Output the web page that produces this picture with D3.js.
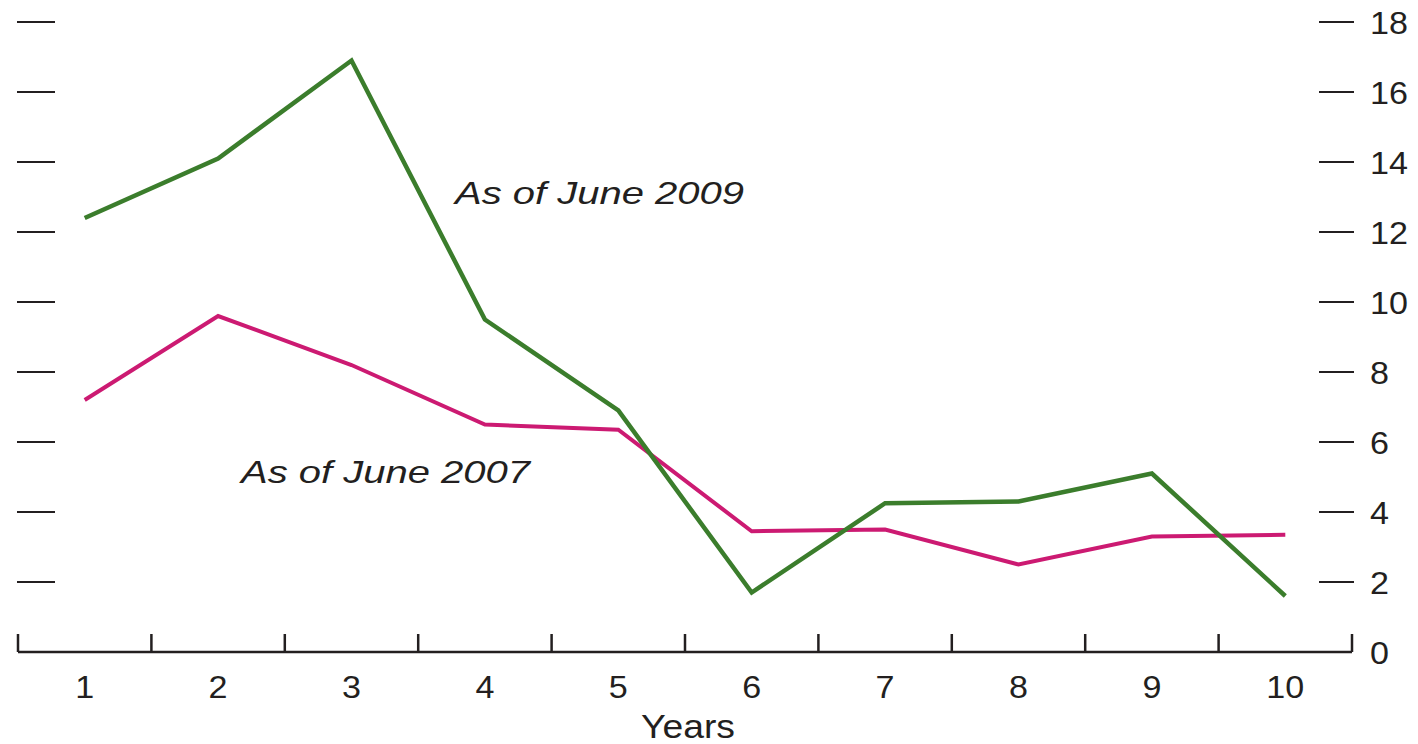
<!DOCTYPE html>
<html><head><meta charset="utf-8">
<script src="https://cdn.jsdelivr.net/npm/d3@7"></script>
<style>body{margin:0;background:#fff}text{font-family:"Liberation Sans",Arial,sans-serif;fill:#231f20}</style>
</head><body><svg id="c" width="1418" height="744"></svg>
<script>
const years = [1,2,3,4,5,6,7,8,9,10];
const june2009 = [12.4,14.1,16.9,9.5,6.9,1.7,4.25,4.3,5.1,1.6];
const june2007 = [7.2,9.6,8.2,6.5,6.35,3.45,3.5,2.5,3.3,3.35];
const yTicks = [0,2,4,6,8,10,12,14,16,18];
const seriesLabels = ["As of June 2009","As of June 2007"];

const svg = d3.select("#c");
const x = d3.scaleBand().domain(years).range([18,1352]);
const y = d3.scaleLinear().domain([0,18]).range([652,22]);

function stext(g, tx, ty, sx, size, str, anchor, italic){
  const t = g.append("text").attr("transform",`translate(${tx},${ty}) scale(${sx},1)`)
    .attr("font-size",size).attr("text-anchor",anchor||"start").text(str);
  if(italic) t.attr("font-style","italic");
  return t;
}

// bottom axis baseline + ticks
svg.append("line").attr("x1",18).attr("x2",1352).attr("y1",652).attr("y2",652).attr("stroke","#231f20").attr("stroke-width",2.5);
const bounds = years.map(d=>x(d)).concat([x(10)+x.bandwidth()]);
svg.selectAll(".vt").data(bounds).join("line").attr("class","vt")
  .attr("x1",d=>d).attr("x2",d=>d).attr("y1",634).attr("y2",652).attr("stroke","#231f20").attr("stroke-width",2.5);
years.forEach(d=>stext(svg, x(d)+x.bandwidth()/2, 698, 1.1, 31, d, "middle"));

// left ticks
svg.selectAll(".lt").data(yTicks.filter(d=>d>0)).join("line").attr("class","lt")
  .attr("x1",17).attr("x2",55).attr("y1",d=>y(d)).attr("y2",d=>y(d)).attr("stroke","#231f20").attr("stroke-width",2);
// right ticks
svg.selectAll(".rt").data(yTicks.filter(d=>d>0)).join("line").attr("class","rt")
  .attr("x1",1319).attr("x2",1354).attr("y1",d=>y(d)).attr("y2",d=>y(d)).attr("stroke","#231f20").attr("stroke-width",2);
yTicks.forEach(d=>stext(svg, 1370, y(d)+11.5, 1.1, 31, d, "start"));

stext(svg, 688, 738, 1.13, 33, "Years", "middle");

const line = d3.line().x((d,i)=>x(years[i])+x.bandwidth()/2).y(d=>y(d));
svg.append("path").datum(june2007).attr("d",line).attr("fill","none").attr("stroke","#cc1a72").attr("stroke-width",4).attr("stroke-linejoin","miter");
svg.append("path").datum(june2009).attr("d",line).attr("fill","none").attr("stroke","#3b7d2c").attr("stroke-width",4.5).attr("stroke-linejoin","miter");

stext(svg, 455, 204, 1.27, 31.5, seriesLabels[0], "start", true);
stext(svg, 241, 483, 1.27, 31.5, seriesLabels[1], "start", true);
</script></body></html>
